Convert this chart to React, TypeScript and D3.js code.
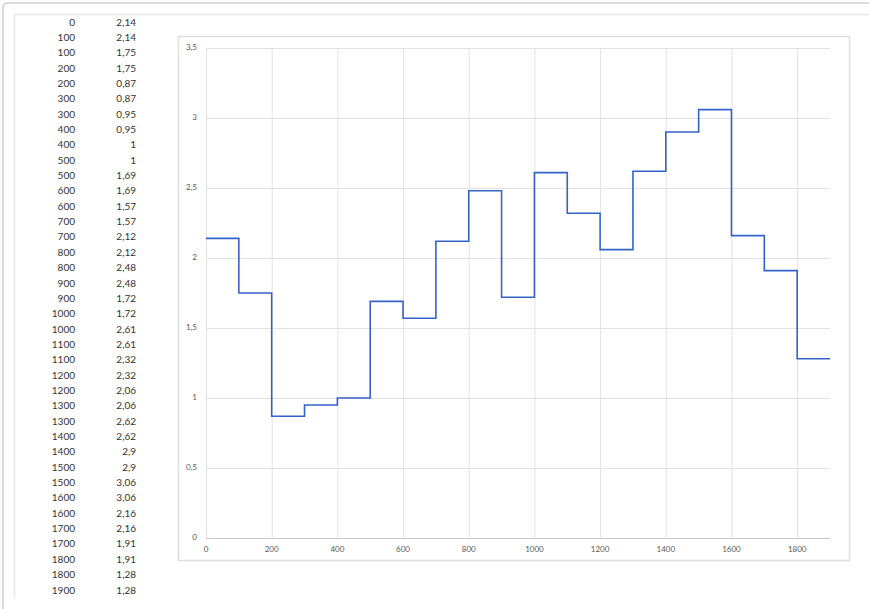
import React from "react";
import * as d3 from "d3";

const xValues = [0,100,100,200,200,300,300,400,400,500,500,600,600,700,700,800,800,900,900,1000,1000,1100,1100,1200,1200,1300,1300,1400,1400,1500,1500,1600,1600,1700,1700,1800,1800,1900];
const yValues = [2.14,2.14,1.75,1.75,0.87,0.87,0.95,0.95,1,1,1.69,1.69,1.57,1.57,2.12,2.12,2.48,2.48,1.72,1.72,2.61,2.61,2.32,2.32,2.06,2.06,2.62,2.62,2.9,2.9,3.06,3.06,2.16,2.16,1.91,1.91,1.28,1.28];
const xTicks = [0,200,400,600,800,1000,1200,1400,1600,1800];
const yTicks = [0,0.5,1,1.5,2,2.5,3,3.5];

const W = 869, H = 609;
const FONT = "Lato, 'Open Sans', sans-serif";

const fmt = (v: number) => String(v).replace(".", ",");

export default function App() {
  const x = d3.scaleLinear().domain([0, 1900]).range([206, 830]);
  const y = d3.scaleLinear().domain([0, 3.5]).range([538, 48]);
  const pts: [number, number][] = xValues.map((xv, i) => [xv, yValues[i]]);
  const line = d3.line<[number, number]>().x(d => x(d[0])).y(d => y(d[1]));
  const rowY = d3.scaleLinear().domain([0, 37]).range([23, 591]);

  return (
    <svg width={W} height={H} style={{ position: "absolute", left: 0, top: 0, background: "#fff" }}>
      {/* window frame */}
      <path d={`M3,${H} L3,8 Q3,3 8,3 L${W},3`} fill="none" stroke="#cfcfcf" strokeWidth={1.5} />
      <line x1={14.5} y1={14.5} x2={W} y2={14.5} stroke="#e6e6e6" strokeWidth={1.5} />
      <line x1={14.5} y1={14.5} x2={14.5} y2={597} stroke="#e6e6e6" strokeWidth={1.5} />

      {/* table */}
      <g fontFamily={FONT} fontSize={10} fill="#333">
        {xValues.map((xv, i) => (
          <g key={i}>
            <text x={75} y={rowY(i)} textAnchor="end" dominantBaseline="middle">{fmt(xv)}</text>
            <text x={136} y={rowY(i)} textAnchor="end" dominantBaseline="middle">{fmt(yValues[i])}</text>
          </g>
        ))}
      </g>

      {/* chart box */}
      <rect x={178.5} y={36.5} width={671} height={524} fill="#fff" stroke="#dedede" strokeWidth={1.5} />

      {/* grid */}
      <g stroke="#e2e2e2" strokeWidth={1}>
        {yTicks.filter(t => t > 0).map(t => (
          <line key={"h" + t} x1={x(0)} x2={x(1900)} y1={y(t) + 0.5} y2={y(t) + 0.5} />
        ))}
        {xTicks.map(t => (
          <line key={"v" + t} x1={x(t) + 0.5} x2={x(t) + 0.5} y1={y(3.5)} y2={y(0)} />
        ))}
      </g>
      <line x1={x(0)} x2={x(1900)} y1={y(0) + 0.5} y2={y(0) + 0.5} stroke="#c8c8c8" strokeWidth={1} />

      {/* tick labels */}
      <g fontFamily={FONT} fontSize={8} fill="#595959">
        {yTicks.map(t => (
          <text key={"yl" + t} x={197} y={y(t)} textAnchor="end" dominantBaseline="middle">{fmt(t)}</text>
        ))}
        {xTicks.map(t => (
          <text key={"xl" + t} x={x(t)} y={550} textAnchor="middle" dominantBaseline="middle">{fmt(t)}</text>
        ))}
      </g>

      {/* series */}
      <path d={line(pts) || ""} fill="none" stroke="#3562C8" strokeWidth={1.6} />
    </svg>
  );
}
